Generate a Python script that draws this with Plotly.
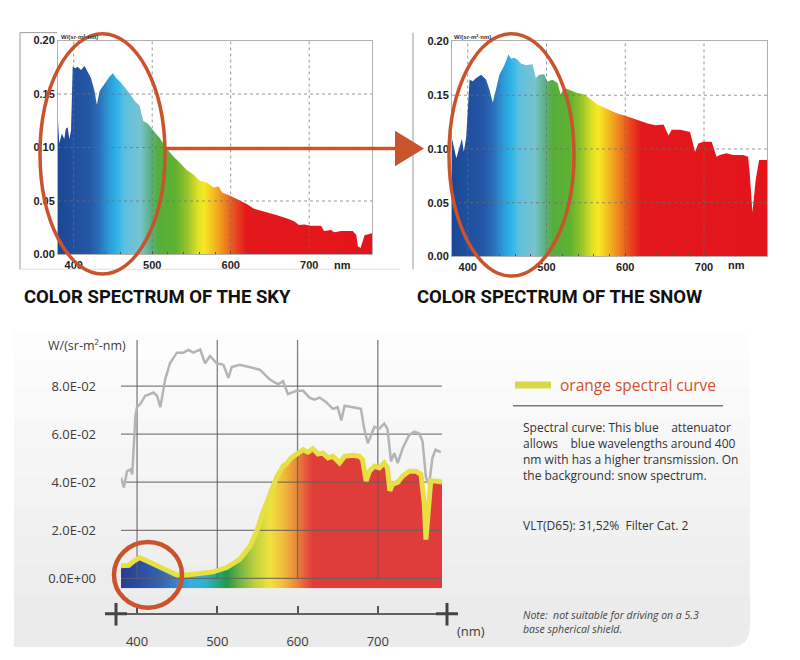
import plotly.graph_objects as go

# page body has an 8px margin; the figure is sized so it fits the 800x660 window exactly
OFF = 8
W, H = 800 - OFF, 660 - OFF

# ---------------- data ----------------
SKY_NM = [380, 381.6, 385, 388, 390, 392.3, 394.5, 396.6, 398.7, 402, 405, 409.4, 413.7, 418, 422, 426.5,
          429.5, 433, 439.3, 445.7, 450, 454, 458.5, 464.9, 471, 477.8, 484, 488.5, 495, 501, 510, 518.4,
          527, 535.5, 544, 552.5, 561, 569.7, 578, 584.6, 589, 599.6, 612, 621, 629.5, 642, 651, 659, 672,
          680.8, 687, 693.6, 702, 715, 719, 727.8, 732, 740.6, 755.5, 760, 762, 765.4, 770.5, 780]
SKY_VAL = [0.125, 0.104, 0.113, 0.108, 0.1175, 0.119, 0.108, 0.116, 0.1755, 0.174, 0.1755, 0.1725, 0.1765,
           0.171, 0.165, 0.1527, 0.140, 0.1527, 0.160, 0.1664, 0.1694, 0.165, 0.162, 0.156, 0.151, 0.1435,
           0.139, 0.125, 0.122, 0.116, 0.1084, 0.099, 0.0916, 0.0855, 0.079, 0.0748, 0.0687, 0.0672, 0.0626,
           0.0635, 0.058, 0.055, 0.0504, 0.047, 0.0427, 0.0403, 0.038, 0.0366, 0.0336, 0.031, 0.0275, 0.028,
           0.0269, 0.0269, 0.022, 0.0229, 0.0208, 0.022, 0.022, 0.0183, 0.0076, 0.006, 0.018, 0.0198]

SNOW_NM = [380, 383.4, 385.5, 389.7, 392.6, 395, 398, 402.3, 406.5, 410.7, 417, 423.4, 427.6, 431.8, 436,
           440.2, 446.5, 451.6, 455, 459, 464, 467.6, 474, 482.3, 486.5, 490.7, 497, 501, 507.6, 514, 518,
           522.3, 528.6, 539, 547.6, 556, 564.4, 573, 581, 589.7, 600, 610.7, 619, 627.6, 638, 648.6, 655,
           659, 669.7, 682.3, 688.6, 692.8, 699, 709.7, 716, 720, 728.6, 737, 749.7, 756, 758, 761.5, 765.7,
           770, 780]
SNOW_VAL = [0.1096, 0.0959, 0.0913, 0.102, 0.1096, 0.0974, 0.111, 0.1644, 0.163, 0.166, 0.169, 0.1644,
            0.155, 0.143, 0.155, 0.169, 0.178, 0.1878, 0.184, 0.1848, 0.1826, 0.1796, 0.178, 0.1787, 0.166,
            0.169, 0.1695, 0.1628, 0.1644, 0.1613, 0.1507, 0.1568, 0.155, 0.152, 0.151, 0.146, 0.1416,
            0.1385, 0.1355, 0.133, 0.131, 0.128, 0.1257, 0.124, 0.122, 0.1227, 0.1126, 0.1178, 0.1178,
            0.1157, 0.0974, 0.105, 0.1066, 0.1066, 0.0928, 0.0944, 0.0959, 0.0944, 0.0944, 0.0928, 0.0776,
            0.0411, 0.0715, 0.0898, 0.0898]

FILTER_NM = [380, 389.7, 396, 403.3, 412.4, 429, 441.4, 449.6, 462, 478.6, 495, 511.7, 528, 540.7, 549, 557,
             565.5, 573.8, 582, 586, 592, 600.7, 607, 613, 619, 625.5, 631.7, 638, 644, 652.4, 658.6, 669,
             677, 681, 685.5, 689.6, 695.8, 702, 708, 712, 715, 718.6, 724.8, 731, 739, 747.5, 753.8, 758,
             760, 763, 766, 772, 780]
FILTER_VAL = [0.0052, 0.0054, 0.0072, 0.0086, 0.0072, 0.0045, 0.0027, 0.0014, 0.0014, 0.0018, 0.0027,
              0.0045, 0.0079, 0.0133, 0.0195, 0.0276, 0.0351, 0.0419, 0.0467, 0.0476, 0.0501, 0.0521,
              0.0535, 0.0525, 0.0539, 0.0517, 0.0521, 0.0501, 0.0508, 0.048, 0.0508, 0.0512, 0.0508,
              0.0494, 0.0405, 0.0446, 0.0467, 0.046, 0.048, 0.046, 0.0365, 0.0392, 0.0399, 0.0426, 0.0446,
              0.0446, 0.0433, 0.031, 0.0161, 0.0283, 0.0405, 0.0405, 0.0401]

BG_NM = [380, 383.5, 387.6, 391.7, 394, 398, 400, 404, 410, 420.7, 425, 429, 435, 441, 449.6, 457.9, 464,
         470, 478.6, 484.8, 491, 499, 507.6, 513.8, 518, 528, 544.8, 553, 565.5, 575.8, 582, 588, 598.6,
         607, 615, 621, 627.6, 636, 644, 650, 654.5, 658.6, 669, 679, 683, 687.5, 691.7, 695.8, 702, 708,
         712, 716.5, 720.6, 724.8, 731, 739, 745.5, 751.7, 755.8, 760, 764, 768, 772, 778.5]
BG_VAL = [0.0419, 0.0378, 0.0446, 0.0453, 0.0433, 0.0678, 0.0712, 0.0725, 0.0759, 0.0773, 0.0759, 0.0712,
          0.0827, 0.0895, 0.0939, 0.0939, 0.095, 0.0939, 0.0952, 0.0895, 0.0925, 0.0895, 0.0888, 0.0834,
          0.0879, 0.0888, 0.0875, 0.0868, 0.0827, 0.0807, 0.082, 0.0766, 0.078, 0.078, 0.0752, 0.0743,
          0.0752, 0.0732, 0.0705, 0.0712, 0.0657, 0.0718, 0.0712, 0.0705, 0.0623, 0.0562, 0.0596, 0.063,
          0.0623, 0.0644, 0.0623, 0.0487, 0.0521, 0.048, 0.0541, 0.0596, 0.061, 0.0603, 0.0569, 0.0419,
          0.0392, 0.05, 0.0535, 0.0525]

# tick values / labels
TOP_XTICKS = [400, 500, 600, 700]
TOP_YTICKS = [0.0, 0.05, 0.10, 0.15, 0.20]
TOP_YTEXT = ["0.00", "0.05", "0.10", "0.15", "0.20"]
TOP_YGRID = [0.05, 0.10, 0.15]
BOT_XTICKS = [400, 500, 600, 700]
BOT_YTICKS = [0.0, 0.02, 0.04, 0.06, 0.08]
BOT_YTEXT = ["0.0E+00", "2.0E-02", "4.0E-02", "6.0E-02", "8.0E-02"]

# spectrum colour stops (wavelength, colour)
TOP_SPEC_NM = [380, 398, 420, 432, 445, 455, 465, 485, 497, 508, 530, 545, 558, 566, 580, 593, 606, 620, 780]
TOP_SPEC_COL = ['#1b4794', '#1f4f9e', '#2457a5', '#2a6db8', '#2c9ad6', '#2cb4e8', '#5cbfe0', '#78c3cf',
                '#5cb287', '#55ad3c', '#5fb22f', '#98c52a', '#e0e024', '#f6e925', '#f3b51f', '#ee7f1e',
                '#e9481f', '#e3181b', '#e3151b']
BOT_SPEC_NM = [380, 400, 430, 450, 465, 485, 500, 512, 528, 548, 566, 582, 598, 612, 620, 780]
BOT_SPEC_COL = ['#263d94', '#2c4aa0', '#3563b2', '#3a86cc', '#34aee2', '#31b0d0', '#28a67e', '#1f9a4a',
                '#72b442', '#c2d23e', '#f0e23e', '#f0bd3c', '#ea8a3a', '#e4543a', '#e03c3a', '#e03c3a']

NM_MIN, NM_MAX = 380, 780
TOP_YMAX = 0.20
BOT_YMIN, BOT_YMAX = -0.0041, 0.0992


def px(x):
    return (x - OFF) / W


def py(y):
    return 1 - (y - OFF) / H


def cscale(nms, cols):
    return [[(n - NM_MIN) / (NM_MAX - NM_MIN), c] for n, c in zip(nms, cols)]


def grid_lines(xv, yv, xlo, xhi, ylo, yhi):
    xs, ys = [], []
    for x in xv:
        xs += [x, x, None]
        ys += [ylo, yhi, None]
    for y in yv:
        xs += [xlo, xhi, None]
        ys += [y, y, None]
    return xs, ys


fig = go.Figure()

# ---------- top charts ----------
for (nm, val, xa, ya) in [(SKY_NM, SKY_VAL, 'x', 'y'), (SNOW_NM, SNOW_VAL, 'x2', 'y2')]:
    fig.add_trace(go.Scatter(
        x=nm, y=val, xaxis=xa, yaxis=ya, mode='lines', line=dict(width=0),
        fill='tozeroy',
        fillgradient=dict(type='horizontal', colorscale=cscale(TOP_SPEC_NM, TOP_SPEC_COL),
                          start=NM_MIN, stop=NM_MAX),
        hoverinfo='skip', showlegend=False))
    gx, gy = grid_lines(TOP_XTICKS, TOP_YGRID, NM_MIN, NM_MAX, 0, TOP_YMAX)
    fig.add_trace(go.Scatter(x=gx, y=gy, xaxis=xa, yaxis=ya, mode='lines',
                             line=dict(color='rgba(110,110,110,0.7)', width=1, dash='dot'),
                             hoverinfo='skip', showlegend=False))

# ---------- bottom chart ----------
fig.add_trace(go.Scatter(x=FILTER_NM, y=[BOT_YMIN] * len(FILTER_NM), xaxis='x3', yaxis='y3',
                         mode='lines', line=dict(width=0), hoverinfo='skip', showlegend=False))
fig.add_trace(go.Scatter(
    x=FILTER_NM, y=FILTER_VAL, xaxis='x3', yaxis='y3', mode='lines', line=dict(width=0),
    fill='tonexty',
    fillgradient=dict(type='horizontal', colorscale=cscale(BOT_SPEC_NM, BOT_SPEC_COL),
                      start=NM_MIN, stop=NM_MAX),
    hoverinfo='skip', showlegend=False))
gx, gy = grid_lines(BOT_XTICKS, BOT_YTICKS, NM_MIN, NM_MAX, 0, BOT_YMAX)
fig.add_trace(go.Scatter(x=gx, y=gy, xaxis='x3', yaxis='y3', mode='lines',
                         line=dict(color='rgba(95,95,95,0.8)', width=1.3),
                         hoverinfo='skip', showlegend=False))
fig.add_trace(go.Scatter(x=BG_NM, y=BG_VAL, xaxis='x3', yaxis='y3', mode='lines',
                         line=dict(color='#b4b4b4', width=2.5), hoverinfo='skip', showlegend=False))
fig.add_trace(go.Scatter(x=FILTER_NM, y=FILTER_VAL, xaxis='x3', yaxis='y3', mode='lines',
                         line=dict(color='#e6e043', width=5), hoverinfo='skip', showlegend=False))
# dummy trace so the separate nm axis is drawn
fig.add_trace(go.Scatter(x=[None], y=[None], xaxis='x4', yaxis='y3', mode='lines',
                         hoverinfo='skip', showlegend=False))

top_tickfont = dict(family='Liberation Sans', size=11, color='#222', weight='bold')
bot_font = dict(family='Open Sans', size=13, color='#3c3c3c')


def top_x(dom):
    return dict(domain=dom, range=[NM_MIN, NM_MAX], tickvals=TOP_XTICKS, ticks='inside', ticklen=3,
                tickcolor='#555', minor=dict(dtick=20, ticks='inside', ticklen=2, tickcolor='#555'),
                showgrid=False, zeroline=False, showline=True, mirror=True, linecolor='#b0b0b0',
                tickfont=top_tickfont, fixedrange=True)


def top_y(dom, anchor):
    return dict(domain=dom, range=[0, TOP_YMAX], tickvals=TOP_YTICKS, ticktext=TOP_YTEXT, ticks='',
                showgrid=False, zeroline=False, showline=True, mirror=True, linecolor='#b0b0b0',
                tickfont=top_tickfont, anchor=anchor, fixedrange=True)


x4_scale = (442 - 121) / (NM_MAX - NM_MIN)
X4_MIN = NM_MIN - (121 - 105) / x4_scale
X4_MAX = NM_MAX + (457 - 442) / x4_scale

fig.update_layout(
    width=W, height=H, margin=dict(l=0, r=0, t=0, b=0, pad=0),
    paper_bgcolor='white', plot_bgcolor='rgba(0,0,0,0)',
    xaxis=dict(top_x([px(58), px(372)]), anchor='y'),
    yaxis=top_y([py(253), py(35)], 'x'),
    xaxis2=dict(top_x([px(452), px(767)]), anchor='y2'),
    yaxis2=top_y([py(255), py(36)], 'x2'),
    xaxis3=dict(domain=[px(121), px(442)], range=[NM_MIN, NM_MAX], anchor='y3', visible=False,
                fixedrange=True),
    yaxis3=dict(domain=[py(593), py(340)], range=[BOT_YMIN, BOT_YMAX], anchor='x3', tickvals=BOT_YTICKS,
                ticktext=BOT_YTEXT, showgrid=False, zeroline=False, showline=False, ticks='',
                ticklabelstandoff=24, tickfont=bot_font, fixedrange=True),
    xaxis4=dict(domain=[px(105), px(457)], range=[X4_MIN, X4_MAX], anchor='free', position=py(619),
                tickvals=BOT_XTICKS, ticks='inside', ticklen=7, tickwidth=1.5, tickcolor='#555',
                showline=True, linecolor='#606060', linewidth=2, showgrid=False, zeroline=False,
                ticklabelstandoff=16, tickfont=bot_font, fixedrange=True),
)

shapes = []
# soft grey panel behind the bottom section (stacked bands give a vertical gradient)
for ys in [330, 360, 390, 420, 450, 480, 510, 540, 570, 600]:
    x0, x1, y1, r = 14, 750, 653, 20
    shapes.append(dict(type='path', xref='paper', yref='paper', layer='below', line=dict(width=0),
                       fillcolor='rgba(0,0,0,0.008)',
                       path=(f"M {px(x0)} {py(ys)} L {px(x1)} {py(ys)} L {px(x1)} {py(y1 - r)} "
                             f"Q {px(x1)} {py(y1)} {px(x1 - r)} {py(y1)} L {px(x0)} {py(y1)} Z")))

# frames of the two top pictures
frame = dict(color='#9a9a9a', width=1)
shapes += [
    dict(type='line', xref='paper', yref='paper', x0=px(20), x1=px(20), y0=py(27), y1=py(268), line=frame),
    dict(type='line', xref='paper', yref='paper', x0=px(20), x1=px(57), y0=py(27), y1=py(27), line=frame),
    dict(type='line', xref='paper', yref='paper', x0=px(20), x1=px(400), y0=py(268), y1=py(268),
         line=dict(color='#dddddd', width=1)),
    dict(type='line', xref='paper', yref='paper', x0=px(413), x1=px(413), y0=py(27), y1=py(268), line=frame),
]

orange = '#c9532b'
shapes += [
    dict(type='circle', xref='paper', yref='paper', x0=px(40), x1=px(165), y0=py(273), y1=py(28),
         line=dict(color=orange, width=3.5), layer='above'),
    dict(type='circle', xref='paper', yref='paper', x0=px(449), x1=px(574), y0=py(275), y1=py(28),
         line=dict(color=orange, width=3.5), layer='above'),
    dict(type='line', xref='paper', yref='paper', x0=px(165), x1=px(397), y0=py(145), y1=py(145),
         line=dict(color=orange, width=3.5), layer='above'),
    dict(type='path', xref='paper', yref='paper', layer='above', line=dict(width=0), fillcolor=orange,
         path=f"M {px(395)} {py(127)} L {px(424)} {py(145)} L {px(395)} {py(163)} Z"),
    dict(type='circle', xref='paper', yref='paper', x0=px(114), x1=px(182), y0=py(613), y1=py(546),
         line=dict(color=orange, width=4.5), layer='above'),
]

# crosses at the ends of the bottom axis
for cx in [116, 447]:
    shapes.append(dict(type='line', xref='paper', yref='paper', x0=px(cx), x1=px(cx), y0=py(608),
                       y1=py(631), line=dict(color='#444', width=3), layer='above'))
    shapes.append(dict(type='line', xref='paper', yref='paper', x0=px(cx - 11), x1=px(cx + 11),
                       y0=py(619), y1=py(619), line=dict(color='#444', width=3), layer='above'))

# legend swatch + rule
shapes += [
    dict(type='line', xref='paper', yref='paper', x0=px(515), x1=px(551), y0=py(386), y1=py(386),
         line=dict(color='#d9d84a', width=7), layer='above'),
    dict(type='line', xref='paper', yref='paper', x0=px(513), x1=px(723), y0=py(407), y1=py(407),
         line=dict(color='#7a7a7a', width=1.5), layer='above'),
]
fig.update_layout(shapes=shapes)

title_font = dict(family='Roboto', size=18.5, color='#111', weight='bold')
body_font = dict(family='Open Sans', size=12, color='#333')
PARA_LINES = ['Spectral curve: This blue \u00a0\u00a0 attenuator',
              'allows \u00a0\u00a0 blue wavelengths around 400',
              'nm with has a higher transmission. On',
              'the background: snow spectrum.']
PARA_Y = [429, 445.5, 462, 478.5]
ann = [
    dict(text='COLOR SPECTRUM OF THE SKY', x=px(22), y=py(296), font=title_font),
    dict(text='COLOR SPECTRUM OF THE SNOW', x=px(415), y=py(296), font=title_font),
    dict(text='nm', x=px(332), y=py(264), font=top_tickfont),
    dict(text='nm', x=px(726), y=py(264), font=top_tickfont),
    dict(text='W/(sr·m²·nm)', x=px(59), y=py(31),
         font=dict(family='Liberation Sans', size=6, color='#333', weight='bold')),
    dict(text='W/(sr·m²·nm)', x=px(452), y=py(31),
         font=dict(family='Liberation Sans', size=6, color='#333', weight='bold')),
    dict(text='W/(sr-m²-nm)', x=px(46), y=py(346), font=dict(family='Open Sans', size=12.5, color='#3c3c3c')),
    dict(text='(nm)', x=px(455), y=py(637), font=bot_font),
    dict(text='orange spectral curve', x=px(558), y=py(386),
         font=dict(family='Open Sans', size=15.5, color='#d2502e')),
    dict(text='VLT(D65): 31,52% \u00a0Filter Cat. 2', x=px(521), y=py(529), font=body_font),
    dict(text='<i>Note: \u00a0not suitable for driving on a 5.3<br>base spherical shield.</i>',
         x=px(521), y=py(611), yanchor='top', align='left',
         font=dict(family='Open Sans', size=10.5, color='#444')),
]
for t, yy in zip(PARA_LINES, PARA_Y):
    ann.append(dict(text=t, x=px(521), y=py(yy), font=body_font))
for a in ann:
    a.setdefault('xref', 'paper')
    a.setdefault('yref', 'paper')
    a.setdefault('xanchor', 'left')
    a.setdefault('yanchor', 'middle')
    a.setdefault('showarrow', False)
fig.update_layout(annotations=ann)

fig.write_html('out.html')
